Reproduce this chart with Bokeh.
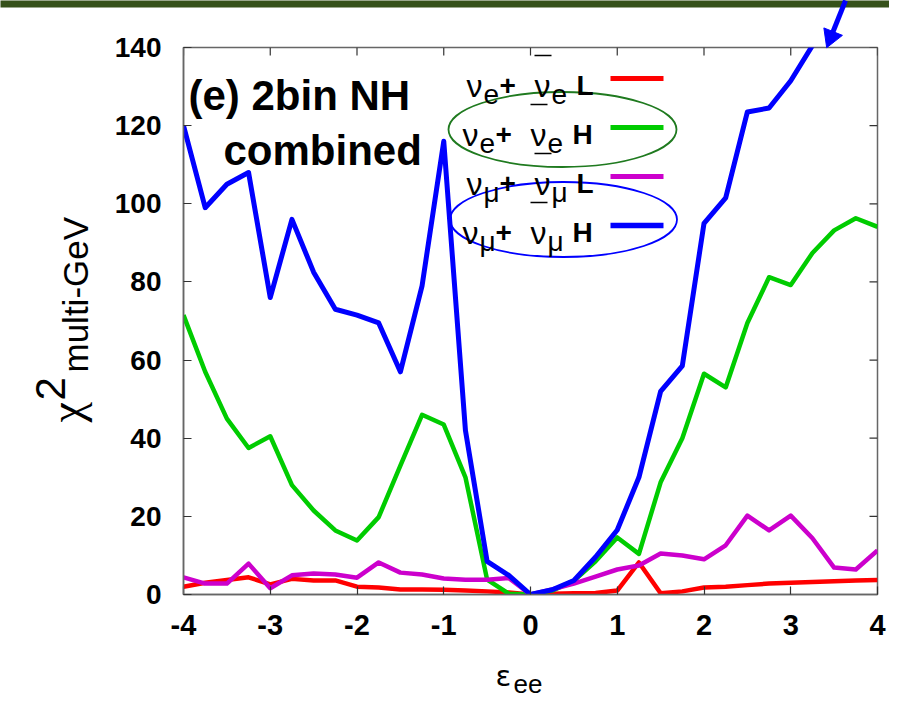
import math
from bokeh.plotting import figure
from bokeh.models import Range1d, FixedTicker, Label
from bokeh.core.properties import value
from bokeh.embed import file_html
from bokeh.resources import INLINE

# ---------------- data ----------------
eps_ee = [-4.0, -3.75, -3.5, -3.25, -3.0, -2.75, -2.5, -2.25, -2.0, -1.75, -1.5, -1.25,
          -1.0, -0.75, -0.5, -0.25, 0.0, 0.25, 0.5, 0.75, 1.0, 1.25, 1.5, 1.75,
          2.0, 2.25, 2.5, 2.75, 3.0, 3.25, 3.5, 3.75, 4.0]

chi2_nue_L = [2.0, 3.0, 3.7, 4.4, 2.6, 4.0, 3.6, 3.6, 2.0, 1.8, 1.3, 1.3,
              1.2, 1.0, 0.8, 0.5, 0.0, 0.2, 0.3, 0.4, 1.0, 8.2, 0.3, 0.8,
              1.8, 2.0, 2.4, 2.8, 3.0, 3.2, 3.4, 3.6, 3.7]

chi2_nue_H = [71.5, 57.0, 45.0, 37.5, 40.5, 28.0, 21.5, 16.4, 13.8, 19.8, 33.0, 46.0,
              43.5, 30.0, 3.8, 0.2, 0.0, 1.0, 3.5, 8.5, 14.6, 10.4, 28.7, 40.0,
              56.5, 53.0, 69.5, 81.2, 79.2, 87.4, 93.2, 96.3, 94.1]

chi2_numu_L = [4.4, 2.8, 2.8, 7.9, 1.6, 4.9, 5.4, 5.1, 4.3, 8.2, 5.6, 5.1,
               4.1, 3.8, 3.8, 4.2, 0.0, 1.3, 2.8, 4.6, 6.4, 7.4, 10.5, 10.0,
               9.0, 12.6, 20.2, 16.4, 20.2, 14.4, 6.9, 6.4, 11.3]

chi2_numu_H = [120.0, 99.0, 105.0, 108.0, 76.0, 96.0, 82.5, 73.0, 71.5, 69.5, 57.0, 79.0,
               116.0, 42.0, 8.5, 4.9, 0.0, 1.2, 3.6, 9.6, 16.5, 30.0, 52.0, 58.5,
               95.0, 101.5, 123.5, 124.5, 131.5, 140.5, 150.0, 158.0, 166.0]

x_ticks = [-4, -3, -2, -1, 0, 1, 2, 3, 4]
x_tick_labels = ["-4", "-3", "-2", "-1", "0", "1", "2", "3", "4"]
y_ticks = [0, 20, 40, 60, 80, 100, 120, 140]
y_tick_labels = ["0", "20", "40", "60", "80", "100", "120", "140"]

series_sub = ["e", "e", "μ", "μ"]
series_mass = ["L", "H", "L", "H"]
series_colors = ["#ff0000", "#00cc00", "#cc00cc", "#0000ff"]
series_widths = [4.5, 4.5, 4.5, 5]

XMIN, XMAX, YMIN, YMAX = -4.0, 4.0, 0.0, 140.0

# frame position in picture pixels
FL, FR, FT, FB = 183, 877, 47, 594
W, H = 889, 698


def X(px):
    return XMIN + (px - FL) * (XMAX - XMIN) / (FR - FL)


def Y(py):
    return YMIN + (FB - py) * (YMAX - YMIN) / (FB - FT)


p = figure(width=W, height=H, output_backend="svg", toolbar_location=None,
           x_range=Range1d(XMIN, XMAX), y_range=Range1d(YMIN, YMAX),
           min_border_left=FL, min_border_right=W - FR, min_border_top=FT, min_border_bottom=H - FB)
p.grid.visible = False
p.outline_line_color = "#666666"
p.outline_line_width = 1.5

xax = p.below[0]
yax = p.left[0]
for ax, ticks, labels in [(xax, x_ticks, x_tick_labels), (yax, y_ticks, y_tick_labels)]:
    ax.ticker = FixedTicker(ticks=ticks)
    ax.major_label_overrides = {t: l for t, l in zip(ticks, labels)}
    ax.axis_line_color = "#666666"
    ax.axis_line_width = 1.5
    ax.major_tick_line_color = "#333333"
    ax.major_tick_line_width = 1.2
    ax.major_tick_in = 8
    ax.major_tick_out = 0
    ax.minor_tick_line_color = None
    ax.major_label_text_font = "Liberation Sans"
    ax.major_label_text_font_style = "bold"
    ax.major_label_text_color = "black"

xax.major_label_text_font_size = "29px"
xax.major_label_standoff = 20
yax.major_label_text_font_size = "28px"
yax.major_label_standoff = 22

# mirrored ticks on the top and right edges of the frame
tick_dy = 8 * (YMAX - YMIN) / (FB - FT)
tick_dx = 8 * (XMAX - XMIN) / (FR - FL)
p.segment(x0=x_ticks, y0=[YMAX] * len(x_ticks), x1=x_ticks, y1=[YMAX - tick_dy] * len(x_ticks),
          line_color="#333333", line_width=1.2)
p.segment(x0=[XMAX] * len(y_ticks), y0=y_ticks, x1=[XMAX - tick_dx] * len(y_ticks), y1=y_ticks,
          line_color="#333333", line_width=1.2)

# ---------------- curves ----------------
for ys, c, w in zip([chi2_nue_L, chi2_nue_H, chi2_numu_L, chi2_numu_H], series_colors, series_widths):
    p.line(eps_ee, ys, line_color=c, line_width=w, line_join="round")

# slide header bar and arrow pointing at the off-scale blue curve (drawn above the frame)
p.quad(left=[X(0)], right=[X(W)], top=[Y(0)], bottom=[Y(7)], fill_color="#36511a",
       line_color=None, level="overlay")
p.segment(x0=[X(845)], y0=[Y(0)], x1=[X(831)], y1=[Y(35)], line_color="#0000ff", line_width=5,
          level="overlay")
p.scatter(x=[X(830.5)], y=[Y(36.5)], marker="triangle", size=20, angle=2.76,
          fill_color="#0000ff", line_color="#0000ff", level="overlay")

# ---------------- panel text ----------------
for txt, px, py in [("(e) 2bin NH", 188, 95), ("combined", 223, 150)]:
    p.add_layout(Label(x=X(px), y=Y(py), text=txt, text_font="Liberation Sans",
                       text_font_style="bold", text_font_size="42px", text_color="black",
                       text_align="left", text_baseline="alphabetic"))

# ---------------- custom key ----------------
row_line_y = [78, 127, 176, 225]
for i in range(4):
    base = row_line_y[i] + 7
    start = 466 if series_mass[i] == "L" else 462
    pieces = [
        ("ν", 0, 0, "32px", "normal"),
        (series_sub[i], 17, 9, "28px", "normal"),
        ("+", 33, 0, "28px", "bold"),
        ("ν", 68, 0, "32px", "normal"),
        (series_sub[i], 85, 9, "28px", "normal"),
        (series_mass[i], 110, 0, "28px", "bold"),
    ]
    for txt, dxp, dyp, fs, st in pieces:
        p.add_layout(Label(x=X(start + dxp), y=Y(base + dyp), text=txt, text_font="Liberation Sans",
                           text_font_style=st, text_font_size=fs, text_color="black",
                           text_align="left", text_baseline="alphabetic"))
    p.segment(x0=[X(start + 68)], y0=[Y(base - 30)], x1=[X(start + 85)], y1=[Y(base - 30)],
              line_color="black", line_width=1.5)
    p.segment(x0=[X(610)], y0=[Y(row_line_y[i])], x1=[X(663)], y1=[Y(row_line_y[i])],
              line_color=series_colors[i], line_width=series_widths[i] + 0.5)

p.ellipse(x=[X(562)], y=[Y(129)], width=228, height=75, width_units="screen", height_units="screen",
          fill_color=None, line_color="#1f7a1f", line_width=1.8)
p.ellipse(x=[X(563)], y=[Y(219)], width=227, height=75, width_units="screen", height_units="screen",
          fill_color=None, line_color="#0000ff", line_width=1.8)

# ---------------- axis titles (overlay-level text, not clipped to the frame) ----------------
def outside_text(txt, px, py, font, size, angle=0.0):
    p.text(x=[X(px)], y=[Y(py)], text=[txt], angle=angle, text_font=value(font),
           text_font_size=value(size), text_color="black", text_align="left",
           text_baseline="alphabetic", level="overlay")


outside_text("ε", 495, 675, "DejaVu Sans", "29px")
outside_text("ee", 513, 683, "Liberation Sans", "26px")
outside_text("χ", 66, 422, "Liberation Serif", "46px", math.pi / 2)
outside_text("2", 50, 400, "Liberation Sans", "42px", math.pi / 2)
outside_text("multi-GeV", 75, 372, "Liberation Sans", "35px", math.pi / 2)

open("out.html", "w").write(file_html(p, INLINE))
